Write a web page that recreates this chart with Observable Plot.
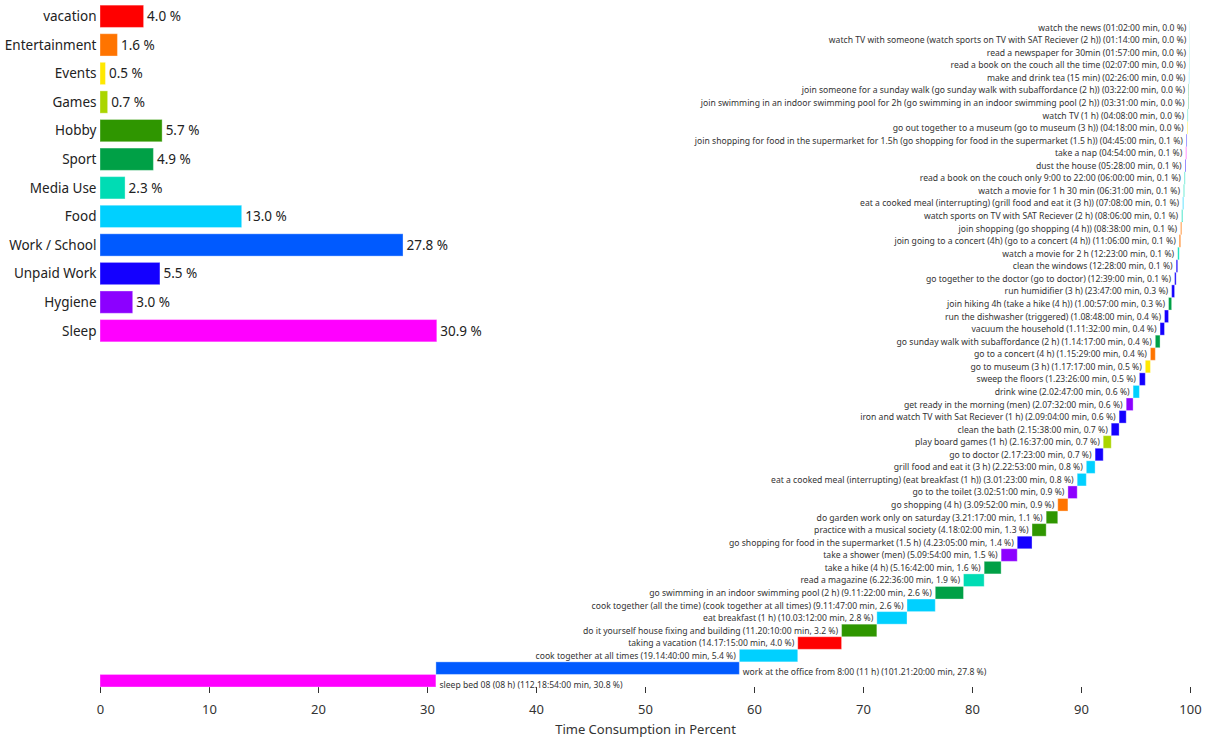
<!DOCTYPE html>
<html><head><meta charset="utf-8">
<script src="https://cdn.jsdelivr.net/npm/d3@7"></script>
<script src="https://cdn.jsdelivr.net/npm/@observablehq/plot@0.6"></script>
<style>
body{margin:0;background:#fff;font-family:"Noto Sans",sans-serif}
#wrap{position:relative;width:1211px;height:740px}
#wrap svg{position:absolute;left:0;top:0}
</style></head><body><div id="wrap"></div>
<script>
// Category summary (top-left bar chart)
const categories = ["vacation","Entertainment","Events","Games","Hobby","Sport","Media Use","Food","Work / School","Unpaid Work","Hygiene","Sleep"];
const categoryShares = [4.0,1.6,0.5,0.7,5.7,4.9,2.3,13.0,27.8,5.5,3.0,30.9];
const categoryColors = ["#ff0000","#ff7400","#ffe800","#aad500","#2f9600","#00a046","#00dcb4","#00d0ff","#005aff","#1400ff","#8c00ff","#ff00ff"];

// Activities, bottom (largest) to top (smallest)
const activities = [
"sleep bed 08 (08 h)",
"work at the office from 8:00 (11 h)",
"cook together at all times",
"taking a vacation",
"do it yourself house fixing and building",
"eat breakfast (1 h)",
"cook together (all the time) (cook together at all times)",
"go swimming in an indoor swimming pool (2 h)",
"read a magazine",
"take a hike (4 h)",
"take a shower (men)",
"go shopping for food in the supermarket (1.5 h)",
"practice with a musical society",
"do garden work only on saturday",
"go shopping (4 h)",
"go to the toilet",
"eat a cooked meal (interrupting) (eat breakfast (1 h))",
"grill food and eat it (3 h)",
"go to doctor",
"play board games (1 h)",
"clean the bath",
"iron and watch TV with Sat Reciever (1 h)",
"get ready in the morning (men)",
"drink wine",
"sweep the floors",
"go to museum (3 h)",
"go to a concert (4 h)",
"go sunday walk with subaffordance (2 h)",
"vacuum the household",
"run the dishwasher (triggered)",
"join hiking 4h (take a hike (4 h))",
"run humidifier (3 h)",
"go together to the doctor (go to doctor)",
"clean the windows",
"watch a movie for 2 h",
"join going to a concert (4h) (go to a concert (4 h))",
"join shopping (go shopping (4 h))",
"watch sports on TV with SAT Reciever (2 h)",
"eat a cooked meal (interrupting) (grill food and eat it (3 h))",
"watch a movie for 1 h 30 min",
"read a book on the couch only 9:00 to 22:00",
"dust the house",
"take a nap",
"join shopping for food in the supermarket for 1.5h (go shopping for food in the supermarket (1.5 h))",
"go out together to a museum (go to museum (3 h))",
"watch TV (1 h)",
"join swimming in an indoor swimming pool for 2h (go swimming in an indoor swimming pool (2 h))",
"join someone for a sunday walk (go sunday walk with subaffordance (2 h))",
"make and drink tea (15 min)",
"read a book on the couch all the time",
"read a newspaper for 30min",
"watch TV with someone (watch sports on TV with SAT Reciever (2 h))",
"watch the news"
];
const durations = [
"112.18:54:00","101.21:20:00","19.14:40:00","14.17:15:00","11.20:10:00","10.03:12:00","9.11:47:00","9.11:22:00",
"6.22:36:00","5.16:42:00","5.09:54:00","4.23:05:00","4.18:02:00","3.21:17:00","3.09:52:00","3.02:51:00",
"3.01:23:00","2.22:53:00","2.17:23:00","2.16:37:00","2.15:38:00","2.09:04:00","2.07:32:00","2.02:47:00",
"1.23:26:00","1.17:17:00","1.15:29:00","1.14:17:00","1.11:32:00","1.08:48:00","1.00:57:00","23:47:00",
"12:39:00","12:28:00","12:23:00","11:06:00","08:38:00","08:06:00","07:08:00","06:31:00","06:00:00",
"05:28:00","04:54:00","04:45:00","04:18:00","04:08:00","03:31:00","03:22:00","02:26:00","02:07:00",
"01:57:00","01:14:00","01:02:00"
];
const shares = [30.8,27.8,5.4,4.0,3.2,2.8,2.6,2.6,1.9,1.6,1.5,1.4,1.3,1.1,0.9,0.9,0.8,0.8,0.7,0.7,0.7,0.6,0.6,0.6,
0.5,0.5,0.4,0.4,0.4,0.4,0.3,0.3,0.1,0.1,0.1,0.1,0.1,0.1,0.1,0.1,0.1,0.1,0.1,0.1,0.0,0.0,0.0,0.0,0.0,0.0,0.0,0.0,0.0];
const groups = ["Sleep","Work / School","Food","vacation","Hobby","Food","Food","Sport","Media Use","Sport","Hygiene",
"Unpaid Work","Hobby","Hobby","Entertainment","Hygiene","Food","Food","Unpaid Work","Games","Unpaid Work","Unpaid Work",
"Hygiene","Food","Unpaid Work","Events","Entertainment","Sport","Unpaid Work","Unpaid Work","Sport","Unpaid Work",
"Unpaid Work","Unpaid Work","Media Use","Entertainment","Entertainment","Media Use","Food","Media Use","Media Use",
"Unpaid Work","Sleep","Unpaid Work","Events","Media Use","Sport","Sport","Food","Media Use","Media Use","Media Use","Media Use"];

const xTicks = [0,10,20,30,40,50,60,70,80,90,100];

// build table
function toMinutes(s){
  let days = 0, rest = s;
  if (s.includes(".")) { const p = s.split("."); days = +p[0]; rest = p[1]; }
  const [h,m,sec] = rest.split(":").map(Number);
  return days*1440 + h*60 + m + sec/60;
}
const minutes = durations.map(toMinutes);
const total = d3.sum(minutes);
let acc = 0;
const rows = activities.map((a,i) => {
  const p = minutes[i]/total*100;
  const r = {i, group: groups[i], x1: acc, x2: acc+p,
    label: `${a} (${durations[i]} min, ${shares[i].toFixed(1)} %)`, big: shares[i] > 20};
  acc += p;
  return r;
});
const cats = categories.map((c,i) => ({c, v: categoryShares[i]}));

const FONT = "'Noto Sans', sans-serif";
const wrap = document.getElementById("wrap");

const mainPlot = Plot.plot({
  width: 1211, height: 740,
  marginLeft: 100, marginRight: 21, marginTop: 21, marginBottom: 53,
  style: {fontFamily: FONT, background: "white", color: "#333"},
  x: {domain: [0,100]},
  y: {type: "band", domain: d3.range(rows.length).reverse(), padding: 0, round: false, axis: null},
  color: {domain: categories, range: categoryColors},
  marks: [
    Plot.axisX({ticks: xTicks, tickSize: 6, tickPadding: 11, fontSize: 13, label: "Time Consumption in Percent",
      labelAnchor: "center", labelArrow: "none", labelOffset: 46, stroke: "#333"}),
    Plot.barX(rows, {x1: "x1", x2: "x2", y: "i", fill: "group", stroke: "white", strokeOpacity: 0.35, strokeWidth: 1}),
    Plot.text(rows.filter(d => !d.big), {x: "x1", y: "i", text: "label", textAnchor: "end", dx: -4, fontSize: 8.6, fill: "#333"}),
    Plot.text(rows.filter(d => d.big), {x: "x2", y: "i", text: "label", textAnchor: "start", dx: 3, dy: 4, fontSize: 8.6, fill: "#333"})
  ]
});
wrap.appendChild(mainPlot);

const catPlot = Plot.plot({
  width: 1211, height: 345,
  marginLeft: 100, marginRight: 21, marginTop: 2, marginBottom: 0,
  style: {fontFamily: FONT, background: "transparent", color: "#222"},
  x: {domain: [0,100], axis: null},
  y: {domain: categories, paddingInner: 0.22, paddingOuter: 0.11, round: false, label: null, axis: null},
  color: {domain: categories, range: categoryColors},
  marks: [
    Plot.axisY({tickSize: 0, tickPadding: 4, fontSize: 13.5, label: null}),
    Plot.barX(cats, {x: "v", y: "c", fill: "c", stroke: "white", strokeOpacity: 0.35, strokeWidth: 1}),
    Plot.text(cats, {x: "v", y: "c", text: d => d.v.toFixed(1) + " %", textAnchor: "start", dx: 3, fontSize: 13.5, fill: "#222"})
  ]
});
wrap.appendChild(catPlot);
</script></body></html>
